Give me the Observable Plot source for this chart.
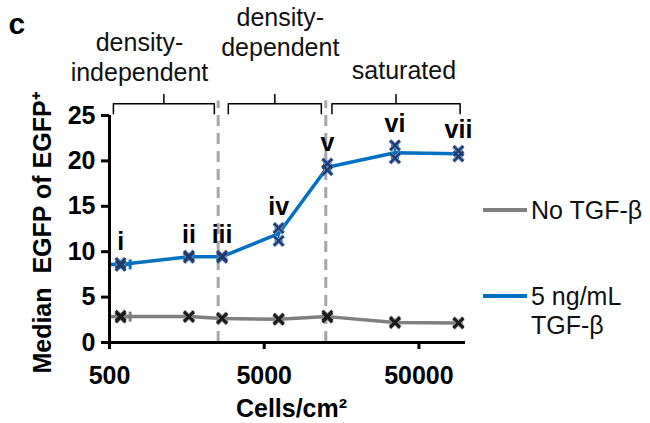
<!DOCTYPE html>
<html>
<head>
<meta charset="utf-8">
<script src="https://cdn.jsdelivr.net/npm/d3@7"></script>
<script src="https://cdn.jsdelivr.net/npm/@observablehq/plot@0.6"></script>
<style>
  html, body { margin: 0; padding: 0; background: #fff; }
  #wrap { position: relative; width: 650px; height: 423px; font-family: "Liberation Sans", Arial, sans-serif; }
  .leg-line { position: absolute; height: 3.5px; }
  .leg-text { position: absolute; font-size: 25px; color: #111; line-height: 29px; white-space: pre; }
</style>
</head>
<body>
<div id="wrap"></div>
<script>
// ---- data ----
const densities   = [590, 1630, 2670, 6200, 12800, 35000, 90000];   // cells/cm2
const romanLabels = ["i", "ii", "iii", "iv", "v", "vi", "vii"];
const noTgfMean = [2.85, 2.85, 2.65, 2.55, 2.85, 2.2, 2.15];
const noTgfRepA = [2.95, 2.9, 2.72, 2.62, 2.95, 2.27, 2.2];
const noTgfRepB = [2.75, 2.8, 2.6, 2.5, 2.75, 2.15, 2.1];
const tgfMean = [8.6, 9.45, 9.45, 12.0, 19.3, 20.9, 20.8];
const tgfRepA = [8.75, 9.55, 9.55, 12.6, 19.7, 21.7, 21.1];
const tgfRepB = [8.45, 9.35, 9.35, 11.2, 19.0, 20.3, 20.5];
const densityLow  = [505, 1630, 2670, 6200, 12800, 35000, 90000];
const densityHigh = [680, 1630, 2670, 6200, 12800, 35000, 90000];
const xTicks = [500, 5000, 50000];
const yTicks = [0, 5, 10, 15, 20, 25];
const regionBoundaries = [2520, 12500];
const regionNames  = ["density-\nindependent", "density-\ndependent", "saturated"];
const regionStart  = [530, 2930, 13700];
const regionEnd    = [2380, 11700, 92300];
const regionLabelX = [781, 6350, 40000];
const regionLabelY = [28.85, 31.6, 29.07];
const bracketY = 26.3, bracketEndY = 25.2, bracketTipY = 27.3, boundaryTop = 26.6;

const seriesNames = ["No TGF-\u03B2", "5 ng/mL\nTGF-\u03B2"];
const seriesColors = ["#7F7F7F", "#0070C0"];

// ---- tables built from arrays ----
const rows = densities.map((d, i) => ({
  density: d, label: romanLabels[i],
  no: noTgfMean[i], noA: noTgfRepA[i], noB: noTgfRepB[i],
  tgf: tgfMean[i], tgfA: tgfRepA[i], tgfB: tgfRepB[i],
  xLow: densityLow[i], xHigh: densityHigh[i]
}));
const xErrRows = rows.filter(r => r.xLow !== r.xHigh);
const regions = regionNames.map((n, i) => ({name: n, x: regionLabelX[i], y: regionLabelY[i]}));
const bracketPts = [];
regionStart.forEach((s, i) => {
  const e = regionEnd[i], c = Math.sqrt(s * e);
  [[s, bracketEndY], [s, bracketY], [c, bracketY], [c, bracketTipY], [c, bracketY], [e, bracketY], [e, bracketEndY]]
    .forEach(([x, y]) => bracketPts.push({id: i, x, y}));
});

const hcap = {draw(ctx, size) { const r = Math.sqrt(size / Math.PI); ctx.moveTo(-r, 0); ctx.lineTo(r, 0); }};
const vcap = {draw(ctx, size) { const r = Math.sqrt(size / Math.PI); ctx.moveTo(0, -r); ctx.lineTo(0, r); }};

function seriesMarks(mean, a, b, color, halo, core) {
  return [
    Plot.ruleY(xErrRows, {y: mean, x1: "xLow", x2: "xHigh", stroke: color, strokeWidth: 3.5}),
    Plot.dot(xErrRows, {x: "xHigh", y: mean, symbol: vcap, r: 5, stroke: color, strokeWidth: 3}),
    Plot.line(rows, {x: "density", y: mean, stroke: color, strokeWidth: 3.5}),
    Plot.ruleX(rows, {x: "density", y1: b, y2: a, stroke: color, strokeWidth: 2}),
    Plot.dot(rows, {x: "density", y: a, symbol: hcap, r: 4, stroke: color, strokeWidth: 2}),
    Plot.dot(rows, {x: "density", y: b, symbol: hcap, r: 4, stroke: color, strokeWidth: 2}),
    Plot.dot(rows, {x: "density", y: a, symbol: "times", r: 4.5, stroke: halo, strokeWidth: 4}),
    Plot.dot(rows, {x: "density", y: b, symbol: "times", r: 4.5, stroke: halo, strokeWidth: 4}),
    Plot.dot(rows, {x: "density", y: a, symbol: "times", r: 4.5, stroke: core, strokeWidth: 2.2}),
    Plot.dot(rows, {x: "density", y: b, symbol: "times", r: 4.5, stroke: core, strokeWidth: 2.2})
  ];
}

const chart = Plot.plot({
  width: 650, height: 423,
  marginLeft: 109, marginRight: 185, marginTop: 115, marginBottom: 81,
  style: {fontFamily: "'Liberation Sans', Arial, sans-serif", fontSize: "25px", fontWeight: "bold", color: "#000", background: "#fff", overflow: "visible"},
  x: {type: "log", domain: [500, 100000]},
  y: {domain: [0, 25]},
  marks: [
    Plot.ruleX(regionBoundaries, {y1: 0, y2: boundaryTop, stroke: "#A6A6A6", strokeWidth: 3, strokeDasharray: "11,7"}),
    Plot.line(bracketPts, {x: "x", y: "y", z: "id", stroke: "#000", strokeWidth: 1.5}),
    Plot.text(regions, {x: "x", y: "y", text: "name", lineAnchor: "bottom", lineHeight: 1.17, fontWeight: "normal", fontSize: 25, fill: "#111"}),
    ...seriesMarks("no", "noA", "noB", seriesColors[0], "#8a8a8a", "#1a1a1a"),
    ...seriesMarks("tgf", "tgfA", "tgfB", seriesColors[1], "#6a8cc6", "#1F3A6B"),
    Plot.text(rows, {x: "density", y: "tgfA", text: "label", dy: -13, lineAnchor: "bottom", fontSize: 25, fontWeight: "bold", fill: "#000"}),
    Plot.axisX({ticks: xTicks, tickFormat: () => "", tickSize: 7, strokeWidth: 3, label: null}),
    Plot.text(xTicks, {x: d => d, text: d => String(d), frameAnchor: "bottom", dy: 24, lineAnchor: "top", textAnchor: "middle", fontSize: 25, fontWeight: "bold", fill: "#000"}),
    Plot.axisY({ticks: yTicks, tickSize: 8, tickPadding: 6, strokeWidth: 3, label: null}),
    Plot.ruleY([0], {stroke: "#000", strokeWidth: 3}),
    Plot.ruleX([500], {stroke: "#000", strokeWidth: 3}),
    Plot.text(["c"], {frameAnchor: "top-left", dx: -101, dy: -82, textAnchor: "start", lineAnchor: "bottom", fontSize: 30, fontWeight: "bold"}),
    Plot.text(["Cells/cm\u00B2"], {frameAnchor: "bottom", dx: 4, dy: 74, textAnchor: "middle", lineAnchor: "bottom", fontSize: 25, fontWeight: "bold"}),
    Plot.text(["Median\u00A0 EGFP of EGFP\u207A"], {frameAnchor: "left", rotate: -90, dx: -59, dy: 4, textAnchor: "middle", lineAnchor: "bottom", fontSize: 25, fontWeight: "bold"})
  ]
});

const wrap = document.getElementById("wrap");
wrap.appendChild(chart);

// legend (right side)
const legendTop = [210, 296];
seriesNames.forEach((name, i) => {
  const line = document.createElement("div");
  line.className = "leg-line";
  line.style.left = "483px"; line.style.width = "44px";
  line.style.top = (legendTop[i] - 1.75) + "px";
  line.style.background = seriesColors[i];
  wrap.appendChild(line);
  const t = document.createElement("div");
  t.className = "leg-text";
  t.style.left = "531px";
  t.style.top = (legendTop[i] - 14.5) + "px";
  t.textContent = name;
  wrap.appendChild(t);
});
</script>
</body>
</html>
